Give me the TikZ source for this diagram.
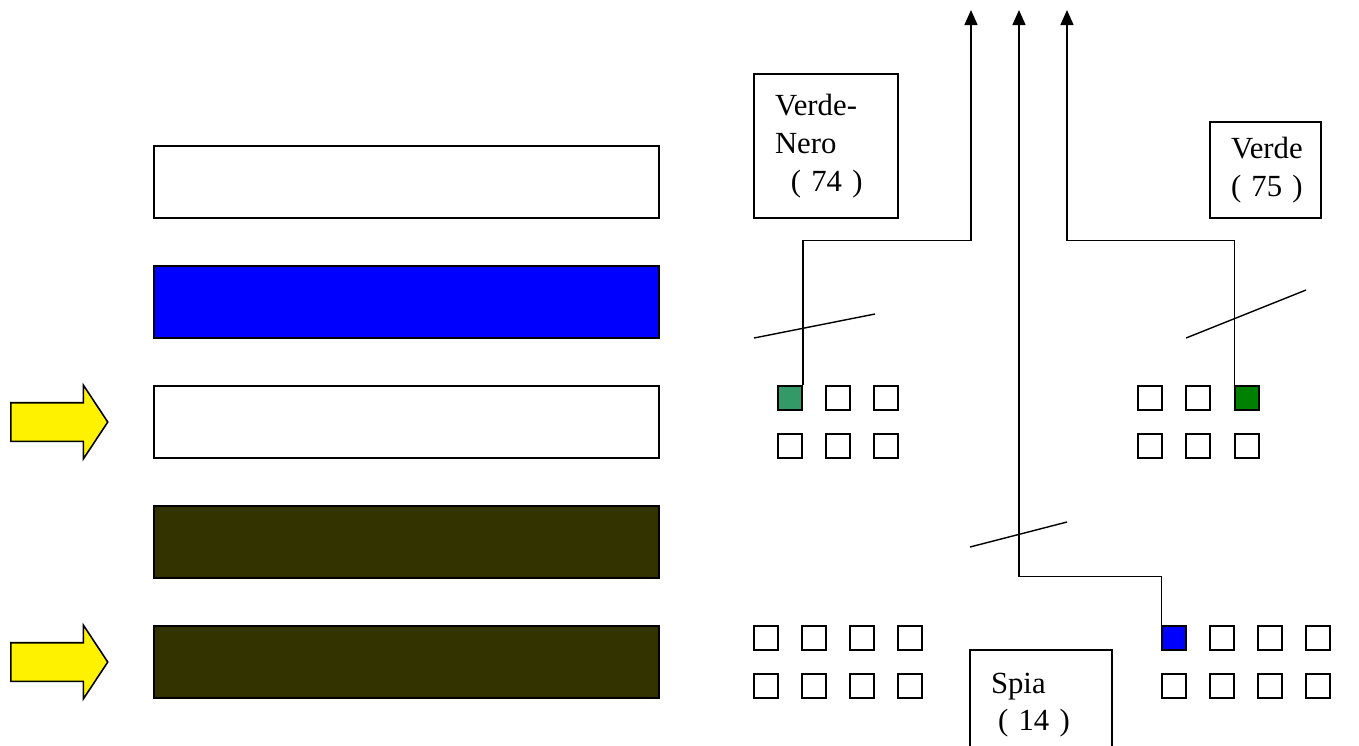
\documentclass[tikz,border=0pt]{standalone}
\usepackage{fontspec}
\setmainfont{Liberation Serif}
\usetikzlibrary{shapes.arrows, arrows.meta}
\definecolor{darkolive}{RGB}{51,51,0}
\definecolor{seagreen}{RGB}{51,153,102}
\definecolor{wiregreen}{RGB}{0,128,0}

\begin{document}
\begin{tikzpicture}[x=0.02cm, y=-0.02cm,
    bar/.style={draw, line width=0.9pt, minimum width=10.1cm, minimum height=1.44cm, inner sep=0},
    pin/.style={draw, line width=0.9pt, minimum size=0.48cm, inner sep=0},
    tag/.style={draw, line width=0.9pt, inner xsep=0.42cm, align=left, font=\fontsize{17.5}{21.5}\selectfont},
    wire/.style={line width=0.8pt, -{Triangle[width=0.26cm, length=0.3cm]}},
    cut/.style={line width=0.8pt},
    push/.style={single arrow, draw, line width=0.9pt, fill=yellow, inner xsep=0, inner ysep=0.37cm,
        single arrow head extend=0.35cm, single arrow tip angle=113, minimum height=1.94cm, anchor=tail}]
    \useasboundingbox (0,0) rectangle (1359,745);

    % bars
    \foreach \y/\f [count=\i] in {182/white, 302/blue, 422/white, 542/darkolive, 662/darkolive}
        \node[bar, fill=\f] (bar\i) at (406.5,\y) {};
    \node[push] (push3) at (10,422) {};
    \node[push] (push5) at (10,662) {};

    % pins
    \foreach \x/\f [count=\i] in {790/seagreen, 838/white, 886/white}
        \node[pin, fill=\f] (vn-1-\i) at (\x,398) {};
    \foreach \x [count=\i] in {790, 838, 886}
        \node[pin] (vn-2-\i) at (\x,446) {};
    \foreach \x/\f [count=\i] in {1150/white, 1198/white, 1247/wiregreen}
        \node[pin, fill=\f] (vd-1-\i) at (\x,398) {};
    \foreach \x [count=\i] in {1150, 1198, 1247}
        \node[pin] (vd-2-\i) at (\x,446) {};
    \foreach \x [count=\i] in {766, 814, 862, 910} {
        \node[pin] (bl-1-\i) at (\x,638) {};
        \node[pin] (bl-2-\i) at (\x,686) {};
    }
    \foreach \x/\f [count=\i] in {1174/blue, 1222/white, 1270/white, 1318/white}
        \node[pin, fill=\f] (sp-1-\i) at (\x,638) {};
    \foreach \x [count=\i] in {1174, 1222, 1270, 1318}
        \node[pin] (sp-2-\i) at (\x,686) {};

    % labels
    \node[tag, text width=2.04cm, minimum height=2.88cm] (tagVN) at (826,146)
        {Verde-\\Nero\\\hspace*{9pt}( 74 )};
    \node[tag, text width=1.38cm, minimum height=1.92cm] (tagVD) at (1265.5,170)
        {Verde\\\mbox{( 75 )}};
    \node[tag, text width=2.0cm, minimum height=2.2cm] (tagSP) at (1041,705)
        {Spia\\\hspace*{4pt}( 14 )};

    % wires
    \coordinate (outVN) at (971,10);
    \coordinate (outSP) at (1019,10);
    \coordinate (outVD) at (1067,10);
    \draw[wire] (vn-1-1.north east) -- ++(0,-145) -| (outVN);
    \draw[wire] (sp-1-1.north west) -- ++(0,-49) -| (outSP);
    \draw[wire] (vd-1-3.north west) -- ++(0,-145) -| (outVD);

    \draw[cut] (754,338) -- (875,314);
    \draw[cut] (1186,338) -- (1306,290);
    \draw[cut] (970,547) -- (1067,522);
\end{tikzpicture}
\end{document}
